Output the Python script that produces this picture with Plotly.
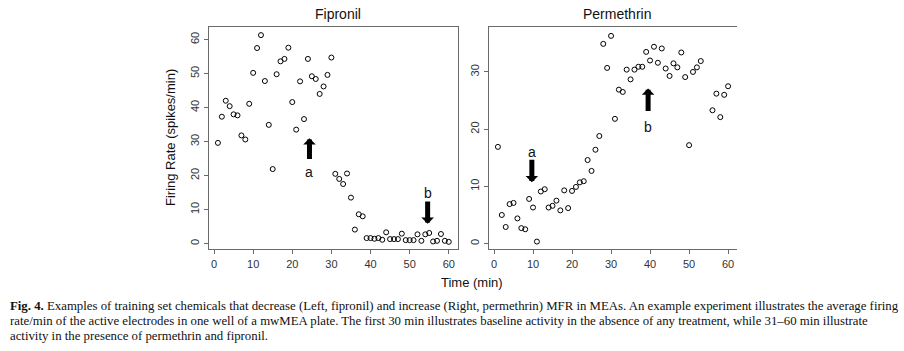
import plotly.graph_objects as go

W, H = 904, 351

minutes = list(range(1, 61))

fipronil_rate = [29.6, 37.3, 42.0, 40.4, 38.0, 37.7, 31.8, 30.6, 41.1, 50.2,
                 57.5, 61.3, 47.8, 34.9, 21.9, 49.8, 53.6, 54.3, 57.6, 41.6,
                 33.5, 47.7, 36.6, 54.3, 49.2, 48.4, 44.0, 46.2, 49.6, 54.7,
                 20.5, 19.0, 17.5, 20.6, 13.5, 4.1, 8.6, 8.0, 1.6, 1.6,
                 1.4, 1.6, 1.1, 3.3, 1.3, 1.3, 1.3, 2.9, 1.0, 1.0,
                 1.0, 2.7, 0.8, 2.7, 3.1, 0.6, 0.8, 2.8, 0.8, 0.5]

permethrin_rate = [16.9, 5.0, 2.9, 6.9, 7.1, 4.4, 2.7, 2.5, 7.8, 6.3,
                   0.35, 9.1, 9.5, 6.3, 6.6, 7.5, 5.8, 9.3, 6.2, 9.2,
                   9.9, 10.7, 10.9, 14.6, 12.7, 16.4, 18.8, 34.9, 30.7, 36.3,
                   21.8, 26.9, 26.5, 30.4, 28.7, 30.4, 30.9, 30.9, 33.5, 32.0,
                   34.4, 31.6, 34.1, 30.6, 29.3, 31.5, 30.8, 33.4, 29.1, 17.2,
                   30.0, 30.8, 31.9, None, None, 23.3, 26.2, 22.1, 26.0, 27.5]

panel_titles = ["Fipronil", "Permethrin"]
x_ticks = [0, 10, 20, 30, 40, 50, 60]
fip_y_ticks = [0, 10, 20, 30, 40, 50, 60]
per_y_ticks = [0, 10, 20, 30]

# arrows: (label, x, tip_y, tail_y, label_y)
fip_arrows = [("a", 24.4, 31.0, 24.4, 21.1), ("b", 54.6, 5.8, 12.8, 14.8)]
per_arrows = [("a", 9.7, 10.7, 14.9, 16.0), ("b", 39.5, 27.1, 22.9, 20.4)]

caption_lines = [
    "<b>Fig. 4.</b> Examples of training set chemicals that decrease (Left, fipronil) and increase (Right, permethrin) MFR in MEAs. An example experiment illustrates the average firing",
    "rate/min of the active electrodes in one well of a mwMEA plate. The first 30 min illustrates baseline activity in the absence of any treatment, while 31\u201360 min illustrate",
    "activity in the presence of permethrin and fipronil.",
]


def px(x):
    return x / W


def py(y):
    return 1 - y / H


fig = go.Figure()

marker = dict(symbol="circle-open", size=5, color="black", line=dict(width=1, color="black"))
fig.add_trace(go.Scatter(x=minutes, y=fipronil_rate, mode="markers", marker=marker,
                         xaxis="x", yaxis="y", showlegend=False))
fig.add_trace(go.Scatter(x=minutes, y=permethrin_rate, mode="markers", marker=marker,
                         xaxis="x2", yaxis="y2", showlegend=False))

ydom = [py(249.3), py(27.3)]
axis_common = dict(showline=True, linecolor="#6a6a6a", linewidth=1, ticks="outside",
                   ticklen=4, tickwidth=1, tickcolor="#6a6a6a", showgrid=False,
                   zeroline=False, tickfont=dict(family="Liberation Sans, Arial", size=11, color="#333"))

fig.update_layout(
    width=W, height=H, margin=dict(l=0, r=0, t=0, b=0),
    paper_bgcolor="white", plot_bgcolor="white",
    xaxis=dict(domain=[px(208.7), px(458)], range=[-1.36, 62.36], tickvals=x_ticks,
               mirror=True, anchor="y", **axis_common),
    yaxis=dict(domain=ydom, range=[-1.7, 63.6], tickvals=fip_y_ticks, tickangle=-90,
               mirror=True, anchor="x", **axis_common),
    xaxis2=dict(domain=[px(488.7), px(737.3)], range=[-1.36, 62.36], tickvals=x_ticks,
                mirror=True, anchor="y2", **axis_common),
    yaxis2=dict(domain=ydom, range=[-1.0, 37.8], tickvals=per_y_ticks, tickangle=-90,
                mirror=False, anchor="x2", **axis_common),
)

title_font = dict(family="Liberation Sans, Arial", size=14, color="#111")
label_font = dict(family="Liberation Sans, Arial", size=13, color="#111")

ann = []
ann.append(dict(text=panel_titles[0], x=px(338), y=py(14), xref="paper", yref="paper",
                xanchor="center", yanchor="middle", showarrow=False, font=title_font))
ann.append(dict(text=panel_titles[1], x=px(617), y=py(14), xref="paper", yref="paper",
                xanchor="center", yanchor="middle", showarrow=False, font=title_font))
ann.append(dict(text="Firing Rate (spikes/min)", x=px(171), y=py(138), xref="paper", yref="paper",
                xanchor="center", yanchor="middle", textangle=-90, showarrow=False, font=label_font))
ann.append(dict(text="Time (min)", x=px(472), y=py(282), xref="paper", yref="paper",
                xanchor="center", yanchor="middle", showarrow=False, font=label_font))

for arrows, xr, yr in [(fip_arrows, "x", "y"), (per_arrows, "x2", "y2")]:
    for label, x, tip, tail, ly in arrows:
        ann.append(dict(x=x, y=tip, ax=x, ay=tail, xref=xr, yref=yr, axref=xr, ayref=yr,
                        text="", showarrow=True, arrowhead=1, arrowwidth=5, arrowsize=0.42,
                        arrowcolor="black", standoff=0, startstandoff=0))
        ann.append(dict(x=x, y=ly, xref=xr, yref=yr, text=label, showarrow=False,
                        xanchor="center", yanchor="middle",
                        font=dict(family="Liberation Sans, Arial", size=14, color="#111")))

cap_y = [306, 321, 336]
for line, yy in zip(caption_lines, cap_y):
    ann.append(dict(text=line, x=px(8), y=py(yy), xref="paper", yref="paper",
                    xanchor="left", yanchor="middle", showarrow=False,
                    font=dict(family="Liberation Serif, Times New Roman", size=12.8, color="#111")))

fig.update_layout(annotations=ann)
fig.write_html("out.html")
